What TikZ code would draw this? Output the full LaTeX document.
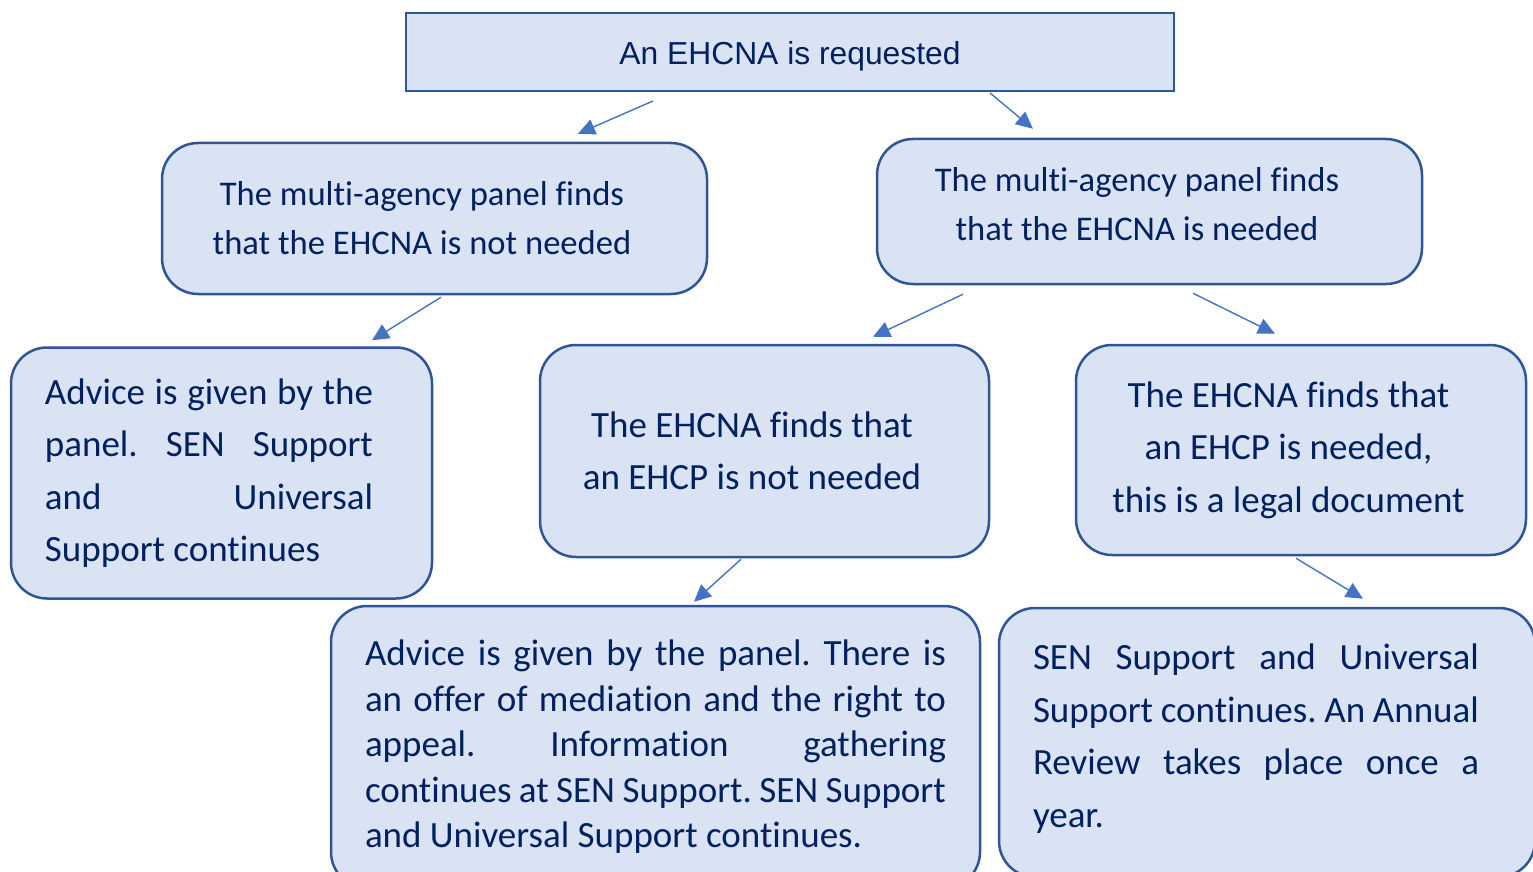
\documentclass[tikz,border=0pt]{standalone}
\usepackage{fontspec}
\setmainfont{Carlito}[Ligatures=NoCommon]
\newfontfamily\arialfont{Liberation Sans}
\usepackage{tikz}
\usetikzlibrary{arrows.meta}
\usetikzlibrary{positioning}
\definecolor{boxfill}{HTML}{DAE3F3}
\definecolor{boxline}{HTML}{2F5597}
\definecolor{boxtext}{HTML}{002060}
\definecolor{arrowblue}{HTML}{4472C4}
\tikzstyle{topbox}=[rectangle,draw=boxline,fill=boxfill,line width=1pt,text=boxtext,minimum width=384pt,minimum height=39pt,inner sep=0pt,font=\arialfont\fontsize{15.9}{19}\selectfont]
\tikzstyle{roundbox}=[rectangle,rounded corners=18pt,draw=boxline,fill=boxfill,line width=1.25pt,text=boxtext,inner sep=0pt]
\tikzstyle{flow}=[draw=arrowblue,line width=0.7pt,-{Triangle[length=8.5pt,width=8pt]}]
\tikzset{para/.style={font=\fontsize{18.5}{26.25}\selectfont}}
% text block set a little left of the box centre
\newcommand{\nudge}[3][12.5pt]{\parbox{#2}{#3}\kern#1}
\newcommand{\lift}[2]{\raisebox{#1}[\height][\depth]{#2}}
\frenchspacing
\hbadness=10000

\begin{document}
\begin{tikzpicture}[x=0.5pt,y=-0.5pt]
  \useasboundingbox (0,0) rectangle (1533,872);

  \node[topbox] (request) at (790,52) {\lift{-2pt}{An EHCNA is requested}};

  % panel decision
  \foreach \x/\y/\h/\r/\name/\label in {434.5/218.5/75.5/0/notneeded/{that the EHCNA is not needed}, 1149.5/211.5/72.5/3.5/needed/{that the EHCNA is needed}}
          \node[roundbox, minimum width=272.5pt, minimum height=\h pt,
                font=\fontsize{17.3}{24.5}\selectfont] (\name) at (\x,\y)
                {\lift{\r pt}{\nudge{250pt}{\centering The multi-agency panel finds\\ \label}}};

  % assessment outcome
  \foreach \x/\y/\w/\h/\name/\label in {764.5/451/224.5/106/noplan/{an EHCP is not needed}, 1301/450/225/105/plan/{an EHCP is needed,\\ this is a legal document}}
          \node[roundbox, para, minimum width=\w pt, minimum height=\h pt] (\name) at (\x,\y)
                {\nudge{200pt}{\centering The EHCNA finds that\\ \label}};

  \node[roundbox, para, minimum width=210.5pt, minimum height=125.5pt] (advice) at (221.5,473)
       {\nudge{164pt}{Advice is given by the\linebreak panel. SEN Support\linebreak and Universal\linebreak Support continues}};

  \node[roundbox, minimum width=324.5pt, minimum height=141pt,
        font=\fontsize{18.5}{22.75}\selectfont] (mediation) at (655.5,747)
       {\nudge[0pt]{290.5pt}{Advice is given by the panel. There is\linebreak an offer of mediation and the right to\linebreak appeal. Information gathering\linebreak continues at SEN Support. SEN Support\linebreak and Universal Support continues.}};

  \node[roundbox, para, minimum width=268pt, minimum height=134.5pt] (review) at (1267,742.5)
       {\lift{2pt}{\nudge[11pt]{223pt}{SEN Support and Universal\linebreak Support continues. An Annual\linebreak Review takes place once a\linebreak year.}}};

  \foreach \source/\sx/\sy/\dest/\dx/\dy in {request/-137/9/notneeded/143.5/-8, request/200/1/needed/-116.5/-9,
          notneeded/6.5/2/advice/150.5/-6, needed/-186.5/9/noplan/108.5/-7, needed/43.5/8/plan/-26/-10,
          noplan/-23.5/1/mediation/38.5/-3, plan/-5/2/review/96/-8}
         \path[flow] ([shift={(\sx,\sy)}]\source.south) -- ([shift={(\dx,\dy)}]\dest.north);

\end{tikzpicture}
\end{document}
